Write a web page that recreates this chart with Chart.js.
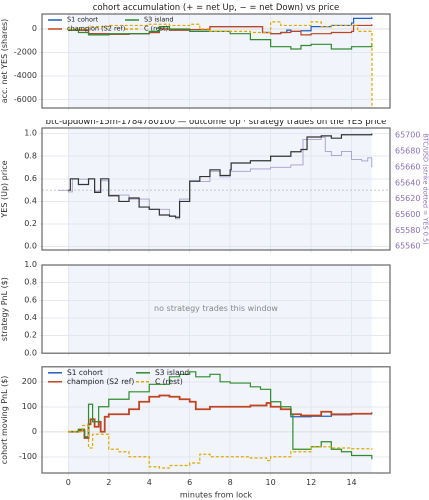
<!DOCTYPE html>
<html><head><meta charset="utf-8">
<script src="https://cdn.jsdelivr.net/npm/chart.js@4/dist/chart.umd.min.js"></script>
<style>
body{margin:0;background:#fff;width:429px;height:500px;position:relative;overflow:hidden}
canvas{position:absolute;left:0}
</style></head><body>
<canvas id="c1" style="top:0"></canvas>
<canvas id="c2" style="top:120px"></canvas>
<canvas id="c3" style="top:258px"></canvas>
<canvas id="c4" style="top:360px"></canvas>
<script>
// ---- data (minutes from lock, value) ----
var accS1 = [[0,-100],[1,-400],[2,-450],[3,-400],[4,-300],[4.5,0],[5,-100],[6,-50],[7,200],[8,200],[9,200],[9.6,-300],[10,-400],[10.5,-300],[10.8,-100],[11,-200],[11.5,-150],[12,200],[13,300],[14,500],[14.1,900],[15,1000]];
var accChamp = [[0,-100],[1,-400],[2,-450],[3,-400],[4,-300],[4.5,0],[5,-100],[6,-50],[7,200],[8,200],[9,200],[9.6,-300],[10,-400],[10.5,-300],[11,-200],[11.5,-500],[12,-400],[13,-300],[14,-200],[14.1,300],[15,400]];
var accS3 = [[0,-100],[0.5,-300],[1,-500],[2,-400],[3,-400],[4,-200],[4.5,200],[5,0],[6,-200],[7,-200],[8,-400],[9,-900],[10,-1500],[11,-1700],[11.5,-1400],[12,-1300],[13,-1700],[14,-1500],[15,-1200]];
var accRest = [[0,0],[1,200],[2,300],[3,300],[4,400],[5,300],[6,400],[6.5,0],[7,-200],[9,-300],[10,600],[10.5,300],[11,300],[12,600],[12.5,200],[13,300],[14,300],[14.3,-200],[15,-400],[15.01,-6500]];

var yesPrice = [[0,0.5],[0.1,0.6],[0.5,0.55],[1,0.6],[1.3,0.48],[1.6,0.6],[2,0.45],[2.5,0.4],[3,0.43],[3.5,0.35],[4,0.33],[4.5,0.28],[5,0.27],[5.3,0.26],[5.5,0.4],[6,0.58],[6.5,0.62],[7,0.68],[7.5,0.63],[8,0.68],[8.05,0.74],[9,0.76],[10,0.8],[11,0.84],[11.5,0.86],[11.8,0.97],[12.5,0.98],[13,0.96],[13.5,0.99],[14,0.99],[15,1.0]];
var btcUsd = [[-0.5,65631],[0,65629],[0.2,65645],[1,65645],[1.3,65630],[1.6,65643],[2,65625],[3,65620],[4,65607],[5,65598],[5.3,65595],[5.5,65620],[6,65642],[7,65655],[7.5,65648],[8,65655],[9,65658],[10,65660],[11,65663],[11.5,65663],[11.6,65695],[12.5,65698],[12.7,65680],[13,65675],[13.5,65680],[14,65670],[14.5,65668],[14.8,65672],[15,65660]];

var pnlS1 = [[0,0],[0.5,5],[0.8,-25],[1,30],[1.1,50],[1.3,20],[1.5,40],[1.6,0],[1.8,60],[2,70],[3,90],[3.5,120],[4,140],[4.5,145],[5,140],[5.5,130],[6,120],[6.3,90],[7,100],[8,100],[9,105],[9.8,115],[10,100],[10.5,90],[11,60],[12,62],[13,68],[14,72],[15,78]];
var pnlChamp = [[0,0],[0.5,5],[0.8,-25],[1,30],[1.1,50],[1.3,20],[1.5,40],[1.6,0],[1.8,60],[2,70],[3,90],[3.5,120],[4,140],[4.5,145],[5,140],[5.5,130],[6,120],[6.3,90],[7,100],[8,100],[9,105],[9.8,115],[10,100],[10.5,90],[11,70],[11.5,65],[12,65],[12.5,80],[13,70],[14,72],[15,72]];
var pnlS3 = [[0,0],[0.5,10],[0.8,-20],[1,110],[1.2,40],[1.5,100],[2,130],[3,160],[4,190],[5,220],[5.5,230],[6,240],[6.3,220],[7,230],[7.5,200],[8,195],[9,180],[9.5,170],[10,120],[10.5,100],[11,70],[11.1,-70],[12,-60],[12.5,-40],[13,-70],[13.5,-80],[14,-95],[15,-110]];
var pnlRest = [[0,0],[0.7,25],[1,-65],[1.2,-10],[1.5,-10],[2,-70],[2.5,-80],[3,-100],[4,-140],[4.5,-145],[5,-135],[6,-125],[6.5,-90],[7,-100],[8,-100],[9,-105],[9.8,-115],[10,-100],[11,-80],[12,-60],[13,-65],[14,-68],[15,-72]];

var xTicks = [0,2,4,6,8,10,12,14];
var accTicks = [-6000,-4000,-2000,0];
var priceTicks = [0,0.2,0.4,0.6,0.8,1.0];
var btcTicks = [65560,65580,65600,65620,65640,65660,65680,65700];
var pnlTicks = [-100,0,100,200];
var seriesNames = ['S1 cohort','champion (S2 ref)','S3 island','C (rest)'];
var colors = ['#1f5fbf','#c0441f','#2e8b2e','#e0a800'];

var FONT = 'DejaVu Sans';
Chart.defaults.font.family = FONT;
Chart.defaults.font.size = 8;
Chart.defaults.color = '#333';
Chart.defaults.animation = false;

function pts(a){ return a.map(function(p){ return {x:p[0], y:p[1]}; }); }

function line(label, data, color, dash, width, axis){
  return {label:label, data:pts(data), borderColor:color, borderWidth:width||1.2, borderDash:dash||[],
    pointRadius:0, stepped:true, fill:false, yAxisID:axis||'y'};
}

// shaded window, title, legend, frame
var deco = {
  id:'deco',
  beforeDatasetsDraw:function(ch){
    var a = ch.chartArea, x = ch.scales.x, c = ch.ctx;
    c.save();
    c.fillStyle = 'rgba(225,230,245,0.45)';
    c.fillRect(x.getPixelForValue(0), a.top, x.getPixelForValue(15)-x.getPixelForValue(0), a.bottom-a.top);
    var o = ch.options.plugins.deco;
    if (o.hline !== undefined) {
      var yy = ch.scales.y.getPixelForValue(o.hline);
      c.strokeStyle = o.hcolor || '#ccc'; c.lineWidth = 0.8; c.setLineDash(o.hdash || []);
      c.beginPath(); c.moveTo(a.left, yy); c.lineTo(a.right, yy); c.stroke();
    }
    c.restore();
  },
  afterDraw:function(ch){
    var a = ch.chartArea, c = ch.ctx, o = ch.options.plugins.deco;
    c.save();
    c.strokeStyle = '#666'; c.lineWidth = 1.2; c.setLineDash([]);
    c.strokeRect(a.left, a.top, a.right-a.left, a.bottom-a.top);
    if (o.title) {
      c.fillStyle = '#222'; c.font = (o.tsize||8.5)+'px '+FONT; c.textAlign = 'center'; c.textBaseline = 'bottom';
      c.fillText(o.title, (a.left+a.right)/2, a.top-2);
    }
    if (o.note) {
      c.fillStyle = '#888'; c.font = '8px '+FONT; c.textAlign = 'center'; c.textBaseline = 'middle';
      c.fillText(o.note, (a.left+a.right)/2, (a.top+a.bottom)/2);
    }
    if (o.legend) {
      c.font = o.lsize+'px '+FONT; c.textBaseline = 'middle'; c.textAlign = 'left';
      for (var i=0;i<4;i++){
        var col = i<2 ? 0 : 1, row = i%2;
        var lx = a.left + 6 + col*o.colw, ly = a.top + 6 + row*o.rowh;
        c.strokeStyle = colors[i]; c.lineWidth = 1.5; c.setLineDash(i==3?[3,2]:[]);
        c.beginPath(); c.moveTo(lx, ly); c.lineTo(lx+14, ly); c.stroke();
        c.fillStyle = '#222'; c.fillText(seriesNames[i], lx+19, ly);
      }
    }
    c.restore();
  }
};
Chart.register(deco);

function fixedTicks(list){ return function(s){ s.ticks = list.map(function(v){return {value:v};}); }; }

function xScale(height, labels, title){
  return {type:'linear', min:-1.3, max:15.9,
    afterBuildTicks:fixedTicks(xTicks),
    afterFit:function(s){ s.height = height; },
    ticks:{display:labels, padding:2, font:{size:8}},
    grid:{color:'#e6e8ee', tickLength:3, drawTicks:true},
    border:{display:false},
    title:{display:!!title, text:title||'', padding:0, font:{size:8}}};
}
function yScale(min, max, list, title){
  return {min:min, max:max, position:'left',
    afterBuildTicks:fixedTicks(list),
    afterFit:function(sc){ sc.width = 42; },
    ticks:{padding:2, font:{size:8}, callback:function(v){ return list===priceTicks ? v.toFixed(1) : v; }},
    grid:{color:'#e6e8ee', tickLength:3},
    border:{display:false},
    title:{display:true, text:title, padding:0, font:{size:8}}};
}
function make(id, h, padTop, padRight, datasets, scales, deco){
  var cv = document.getElementById(id);
  cv.width = 429; cv.height = h;
  cv.style.width = '429px'; cv.style.height = h+'px';
  return new Chart(cv, {type:'line', data:{datasets:datasets},
    options:{responsive:false, maintainAspectRatio:false, devicePixelRatio:2,
      layout:{padding:{top:padTop, right:padRight, left:0, bottom:0}},
      plugins:{legend:{display:false}, tooltip:{enabled:false}, deco:deco},
      scales:scales}});
}

make('c1', 120, 14, 39, [
  line(seriesNames[3], accRest, colors[3], [3,2]),
  line(seriesNames[2], accS3, colors[2]),
  line(seriesNames[1], accChamp, colors[1]),
  line(seriesNames[0], accS1, colors[0])
], {x:xScale(12,false), y:yScale(-6700,1270,accTicks,'acc. net YES (shares)')},
{title:'cohort accumulation (+ = net Up, \u2212 = net Down) vs price', hline:0, hcolor:'#ddd', legend:true, lsize:6.5, colw:77, rowh:9});

make('c2', 138, 8, 0, [
  line('YES', yesPrice, '#333', [], 1.2, 'y'),
  line('BTC', btcUsd, '#a89ccc', [], 0.9, 'y2')
], {x:xScale(8,false), y:yScale(-0.03,1.05,priceTicks,'YES (Up) price'),
  y2:{position:'right', min:65555.7, max:65709.6,
    afterFit:function(s){ s.width = 39; },
    afterBuildTicks:fixedTicks(btcTicks),
    ticks:{color:'#8a6fb5', padding:2, font:{size:8}, callback:function(v){return v;}},
    grid:{display:false, tickLength:3}, border:{display:false},
    title:{display:true, text:'BTC/USD (strike dotted = YES 0.5)', color:'#8a6fb5', padding:0, font:{size:6.5}}}},
{title:'btc-updown-15m-1784780100 \u2014 outcome Up \u00b7 strategy trades on the YES price', tsize:8.5, hline:0.5, hcolor:'#bbb', hdash:[2,2]});

make('c3', 102, 7, 39, [], {x:xScale(5,false), y:yScale(0,1,priceTicks,'strategy PnL ($)')},
{note:'no strategy trades this window'});

make('c4', 140, 5, 39, [
  line(seriesNames[3], pnlRest, colors[3], [3,2]),
  line(seriesNames[2], pnlS3, colors[2]),
  line(seriesNames[1], pnlChamp, colors[1], [], 1.8),
  line(seriesNames[0], pnlS1, colors[0])
], {x:xScale(27,true,'minutes from lock'), y:yScale(-165,260,pnlTicks,'cohort moving PnL ($)')},
{hline:0, hcolor:'#ddd', legend:true, lsize:7.5, colw:88, rowh:9});
</script>
</body></html>
